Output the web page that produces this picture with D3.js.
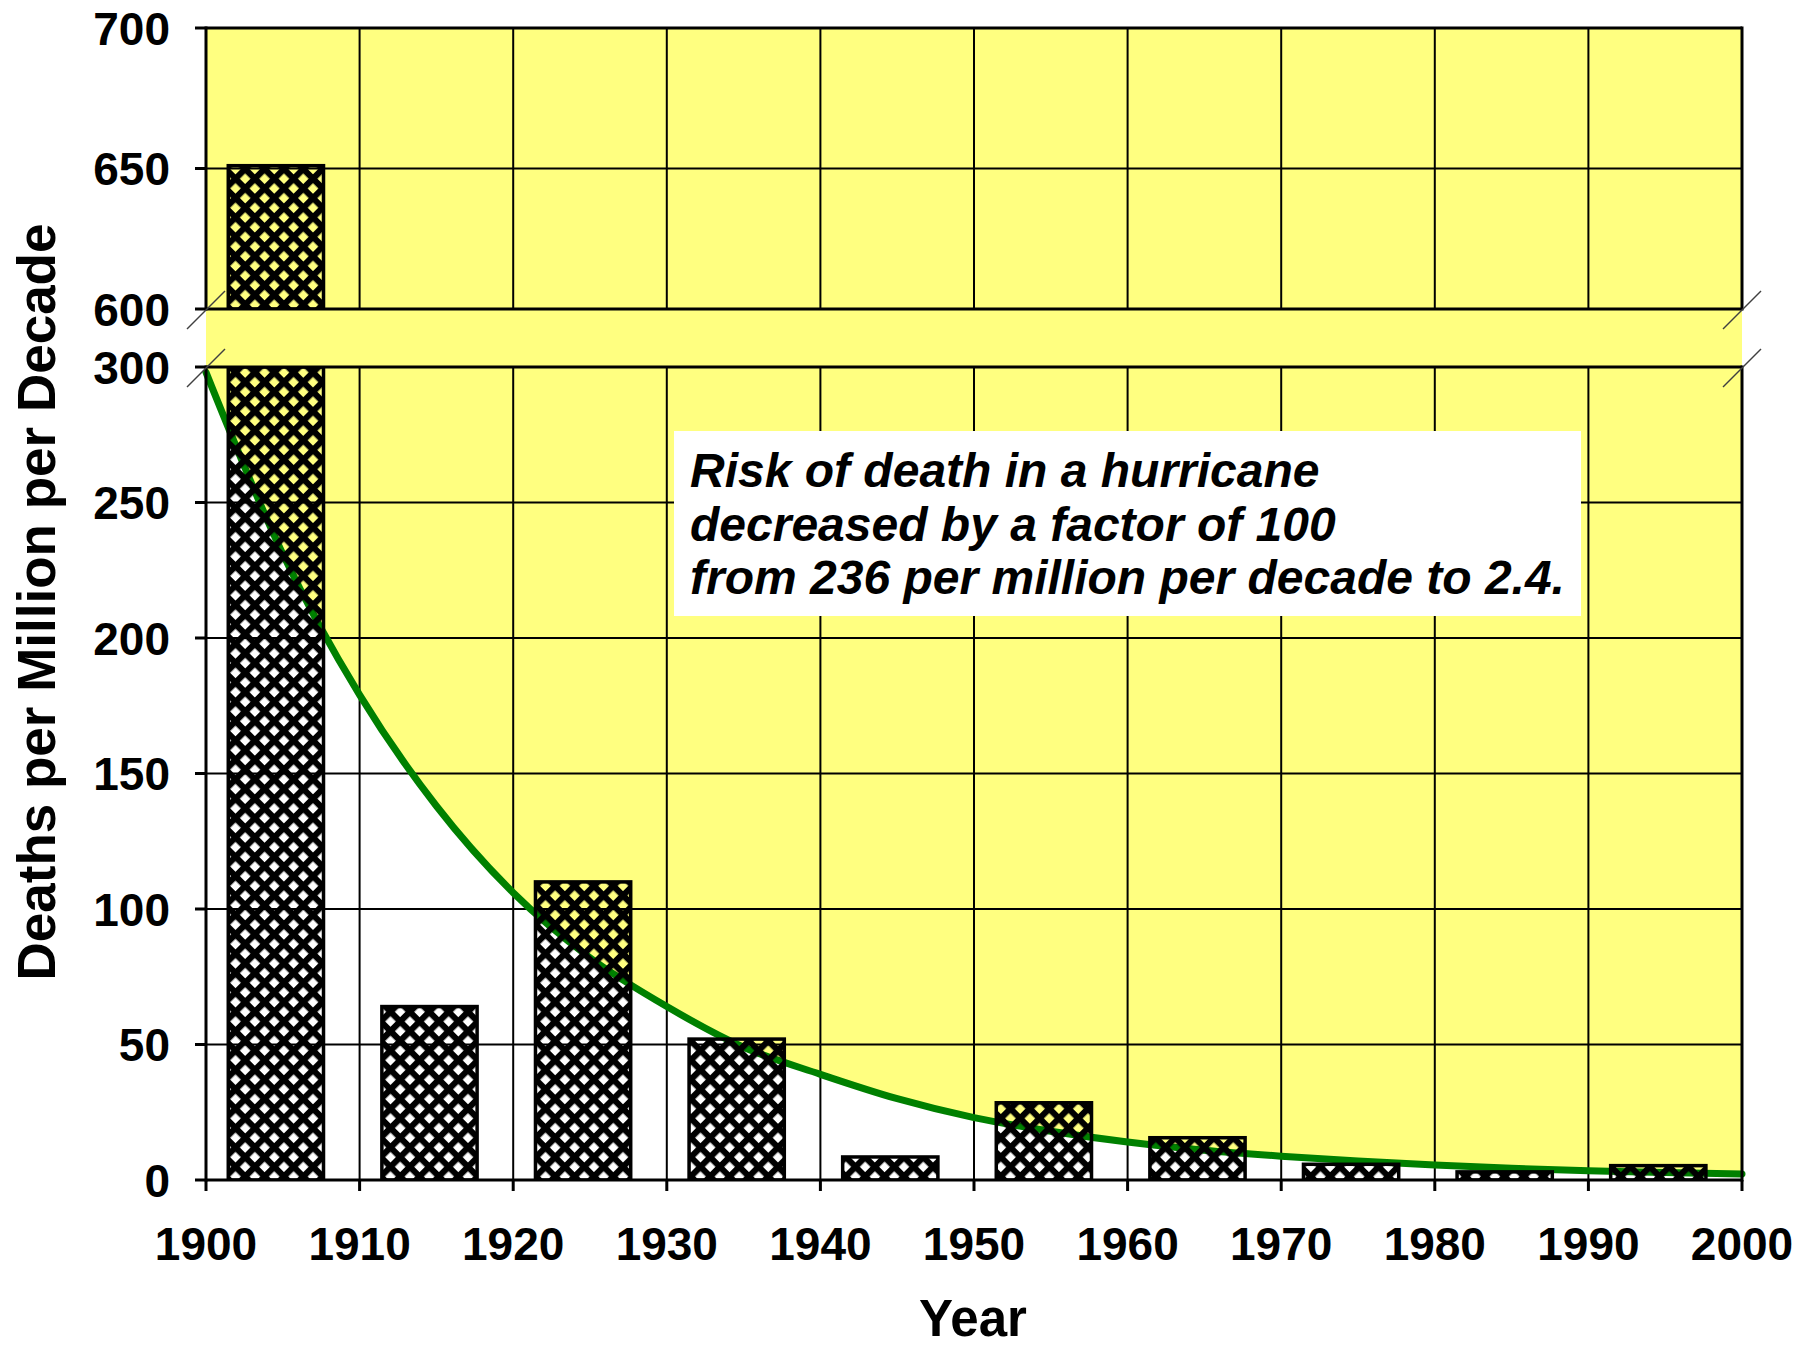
<!DOCTYPE html>
<html>
<head>
<meta charset="utf-8">
<script src="https://cdn.jsdelivr.net/npm/d3@7"></script>
<style>
  html, body { margin: 0; padding: 0; background: #ffffff; }
  svg { display: block; }
  text { font-family: "Liberation Sans", Arial, sans-serif; font-weight: bold; fill: #000; }
</style>
</head>
<body>
<svg id="chart" width="1816" height="1348"></svg>
<script>
// Hurricane deaths per million population, by decade
const decades = [1900, 1910, 1920, 1930, 1940, 1950, 1960, 1970, 1980, 1990];
const deaths = [651, 64, 110, 52, 8.5, 28.5, 15.6, 5.8, 3, 5.3];

// Smoothed trend through the decade values
const trendYears = [1900, 1905, 1910, 1915, 1920, 1925, 1930, 1935, 1940, 1945, 1950,
                    1955, 1960, 1965, 1970, 1975, 1980, 1985, 1990, 1995, 2000];
const trendValues = [298, 231, 179, 138, 106, 82, 64, 49, 39, 30, 23,
                     18, 14, 11, 8.8, 7, 5.5, 4.3, 3.4, 2.8, 2.2];

// Axis ticks
const xTicks = [1900, 1910, 1920, 1930, 1940, 1950, 1960, 1970, 1980, 1990, 2000];
const lowerTicks = [0, 50, 100, 150, 200, 250, 300];
const upperTicks = [600, 650, 700];

const noteLines = [
  "Risk of death in a hurricane",
  "decreased by a factor of 100",
  "from 236 per million per decade to 2.4."
];

const svg = d3.select("#chart");
const YELLOW = "#ffff80";
const GREEN = "#008000";

const left = 206, right = 1742;
const x = d3.scaleLinear().domain([1900, 2000]).range([left, right]);

// Broken value axis: two panels with a gap between 300 and 600
const yLow = d3.scaleLinear().domain([0, 300]).range([1180, 367]);
const yHigh = d3.scaleLinear().domain([600, 700]).range([309, 28]);
const panels = [
  { scale: yLow, lo: 0, hi: 300, ticks: lowerTicks, id: "clipLow" },
  { scale: yHigh, lo: 600, hi: 700, ticks: upperTicks, id: "clipHigh" }
];

const defs = svg.append("defs");
panels.forEach(p => {
  defs.append("clipPath").attr("id", p.id)
    .append("rect")
    .attr("x", left).attr("y", p.scale(p.hi))
    .attr("width", right - left).attr("height", p.scale(p.lo) - p.scale(p.hi));
});

// Cross-hatch fill with transparent diamond holes
const P = 13.7, S = 6.2;
const pat = defs.append("pattern")
  .attr("id", "hatch")
  .attr("patternUnits", "userSpaceOnUse")
  .attr("width", P).attr("height", P)
  .attr("patternTransform", "translate(3,0) rotate(45)");
pat.append("rect").attr("x", 0).attr("y", 0).attr("width", S).attr("height", P).attr("fill", "#000");
pat.append("rect").attr("x", 0).attr("y", 0).attr("width", P).attr("height", S).attr("fill", "#000");

// Plot background, including the break band
svg.append("rect")
  .attr("x", left).attr("y", yHigh(700))
  .attr("width", right - left).attr("height", yLow(0) - yHigh(700))
  .attr("fill", YELLOW);

// White region beneath the trend curve
const trend = trendYears.map((yr, i) => [yr, trendValues[i]]);
const area = d3.area()
  .x(d => x(d[0]))
  .y0(yLow(0))
  .y1(d => yLow(d[1]))
  .curve(d3.curveMonotoneX);
svg.append("path")
  .datum(trend)
  .attr("d", area)
  .attr("fill", "#ffffff")
  .attr("clip-path", "url(#clipLow)");

// Gridlines
panels.forEach(p => {
  const g = svg.append("g");
  g.selectAll("line.h")
    .data(p.ticks.filter(t => t > p.lo && t < p.hi))
    .join("line")
    .attr("x1", left).attr("x2", right)
    .attr("y1", d => p.scale(d)).attr("y2", d => p.scale(d))
    .attr("stroke", "#000").attr("stroke-width", 2);
  g.selectAll("line.v")
    .data(xTicks.slice(1, -1))
    .join("line")
    .attr("x1", d => x(d)).attr("x2", d => x(d))
    .attr("y1", p.scale(p.hi)).attr("y2", p.scale(p.lo))
    .attr("stroke", "#000").attr("stroke-width", 2);
});

// Trend line
const line = d3.line()
  .x(d => x(d[0]))
  .y(d => yLow(d[1]))
  .curve(d3.curveMonotoneX);
svg.append("path")
  .datum(trend)
  .attr("d", line)
  .attr("fill", "none")
  .attr("stroke", GREEN)
  .attr("stroke-width", 7)
  .attr("stroke-linecap", "round");

// Bars, drawn in each panel of the broken axis
const barOffset = 1.45, barSpan = 6.2;
panels.forEach(p => {
  svg.append("g")
    .attr("clip-path", `url(#${p.id})`)
    .selectAll("rect")
    .data(decades.map((d, i) => ({ d, v: deaths[i] })).filter(b => b.v > p.lo))
    .join("rect")
    .attr("x", b => x(b.d + barOffset))
    .attr("width", b => x(b.d + barOffset + barSpan) - x(b.d + barOffset))
    .attr("y", b => p.scale(Math.min(b.v, p.hi)))
    .attr("height", b => p.scale(p.lo) - p.scale(Math.min(b.v, p.hi)))
    .attr("fill", "url(#hatch)")
    .attr("stroke", "#000")
    .attr("stroke-width", 3.5);
});

// Frame and axes
const frame = svg.append("g").attr("stroke", "#000").attr("stroke-width", 3).attr("fill", "none");
panels.forEach(p => {
  frame.append("line").attr("x1", left).attr("x2", left)
    .attr("y1", p.scale(p.hi) - 1.5).attr("y2", p.scale(p.lo) + 1.5);
  frame.append("line").attr("x1", right).attr("x2", right)
    .attr("y1", p.scale(p.hi) - 1.5).attr("y2", p.scale(p.lo) + 1.5);
  frame.append("line").attr("x1", left).attr("x2", right)
    .attr("y1", p.scale(p.hi)).attr("y2", p.scale(p.hi));
  frame.append("line").attr("x1", left).attr("x2", right)
    .attr("y1", p.scale(p.lo)).attr("y2", p.scale(p.lo));
});

// Value axis ticks and labels
panels.forEach(p => {
  const g = svg.append("g");
  g.selectAll("line")
    .data(p.ticks)
    .join("line")
    .attr("x1", left - 11).attr("x2", left)
    .attr("y1", d => p.scale(d)).attr("y2", d => p.scale(d))
    .attr("stroke", "#000").attr("stroke-width", 3);
  g.selectAll("text")
    .data(p.ticks)
    .join("text")
    .attr("x", 170)
    .attr("y", d => p.scale(d) + 16.5)
    .attr("text-anchor", "end")
    .attr("font-size", 46)
    .text(d => d);
});

// Year axis ticks and labels
const xg = svg.append("g");
xg.selectAll("line")
  .data(xTicks)
  .join("line")
  .attr("x1", d => x(d)).attr("x2", d => x(d))
  .attr("y1", yLow(0)).attr("y2", yLow(0) + 11)
  .attr("stroke", "#000").attr("stroke-width", 3);
xg.selectAll("text")
  .data(xTicks)
  .join("text")
  .attr("x", d => x(d))
  .attr("y", 1260)
  .attr("text-anchor", "middle")
  .attr("font-size", 46)
  .text(d => d);

// Axis break marks
const breaks = svg.append("g").attr("stroke", "#404040").attr("stroke-width", 1.5);
[left, right].forEach(xx => {
  [yHigh(600), yLow(300)].forEach(yy => {
    breaks.append("line")
      .attr("x1", xx - 19).attr("y1", yy + 20)
      .attr("x2", xx + 19).attr("y2", yy - 18);
  });
});

// Axis titles
svg.append("text")
  .attr("transform", "translate(55,602) rotate(-90)")
  .attr("text-anchor", "middle")
  .attr("font-size", 53)
  .text("Deaths per Million per Decade");
svg.append("text")
  .attr("x", 973).attr("y", 1336)
  .attr("text-anchor", "middle")
  .attr("font-size", 51)
  .text("Year");

// Annotation box
svg.append("rect")
  .attr("x", 674).attr("y", 431)
  .attr("width", 907).attr("height", 185)
  .attr("fill", "#ffffff");
svg.append("g")
  .selectAll("text")
  .data(noteLines)
  .join("text")
  .attr("x", 690)
  .attr("y", (d, i) => 487 + i * 53.5)
  .attr("font-size", 48)
  .attr("font-style", "italic")
  .text(d => d);
</script>
</body>
</html>
